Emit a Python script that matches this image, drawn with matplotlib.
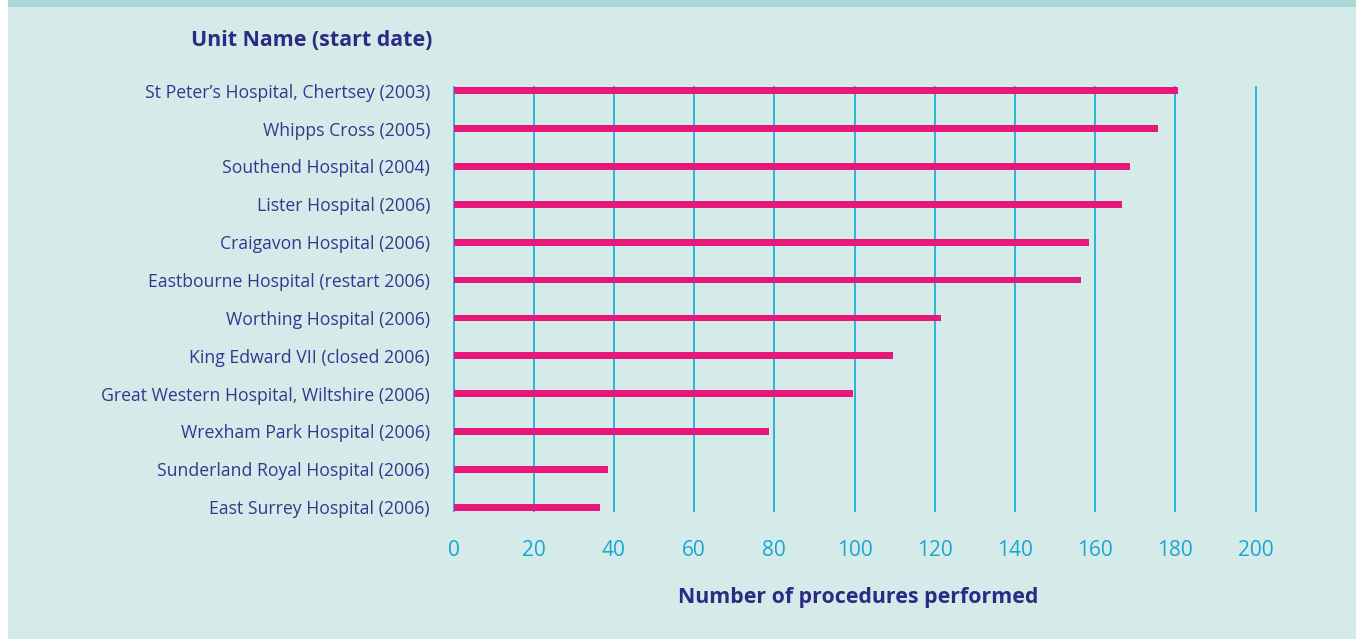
"""Horizontal bar chart of procedures performed per unit."""
import matplotlib.pyplot as plt
from matplotlib.patches import Rectangle

units = ["St Peter\u2019s Hospital, Chertsey (2003)",
         "Whipps Cross (2005)",
         "Southend Hospital (2004)",
         "Lister Hospital (2006)",
         "Craigavon Hospital (2006)",
         "Eastbourne Hospital (restart 2006)",
         "Worthing Hospital (2006)",
         "King Edward VII (closed 2006)",
         "Great Western Hospital, Wiltshire (2006)",
         "Wrexham Park Hospital (2006)",
         "Sunderland Royal Hospital (2006)",
         "East Surrey Hospital (2006)"]
procedures = [181, 176, 169, 167, 159, 157, 122, 110, 100, 79, 39, 37]
x_ticks = list(range(0, 201, 20))

BG = "#d5ebe9"
BAND = "#acd9d8"
NAVY = "#2b2a84"
LABEL = "#32388f"
BAR = "#e8177a"
GRID = "#2ab4da"

plt.rcParams["font.family"] = ["Open Sans", "DejaVu Sans"]

W, H = 1356, 639
fig = plt.figure(figsize=(W / 100, H / 100), dpi=100, facecolor="white")
# Background panel and top band.
fig.patches.append(Rectangle((8 / W, 0), 1 - 8 / W, 1, transform=fig.transFigure,
                             facecolor=BG, edgecolor="none", zorder=-2))
fig.patches.append(Rectangle((8 / W, 1 - 7 / H), 1 - 8 / W, 7 / H,
                             transform=fig.transFigure, facecolor=BAND,
                             edgecolor="none", zorder=-1))

left, right, top, bottom = 453.5, 1255.5, 87, 511
ax = fig.add_axes([left / W, 1 - bottom / H, (right - left) / W, (bottom - top) / H])
ax.set_facecolor("none")
ax.set_zorder(1)

ys = list(range(len(units)))
for xv in x_ticks:
    ax.axvline(xv, color=GRID, lw=1.4, zorder=1, clip_on=False)
ax.barh(ys, procedures, height=0.175, color=BAR, zorder=2, left=-0.4)

ax.set_xlim(0, 200)
ax.set_ylim(len(units) - 1 + 0.1, -0.1)
ax.set_xticks(x_ticks)
ax.set_yticks(ys)
ax.set_yticklabels(units)
ax.tick_params(axis="x", length=0, pad=21, labelsize=15, labelcolor="#1ba6d2")
ax.tick_params(axis="y", length=0, pad=17, labelsize=12.7, labelcolor=LABEL)
for s in ax.spines.values():
    s.set_visible(False)

fig.text(432 / W, 1 - 40 / H, "Unit Name (start date)", ha="right", va="center",
         fontsize=15.4, fontweight="bold", color=NAVY)
fig.text(858 / W, 1 - 597 / H, "Number of procedures performed", ha="center",
         va="center", fontsize=15.4, fontweight="bold", color=NAVY)

fig.savefig("out.png", dpi=100, facecolor="white")
